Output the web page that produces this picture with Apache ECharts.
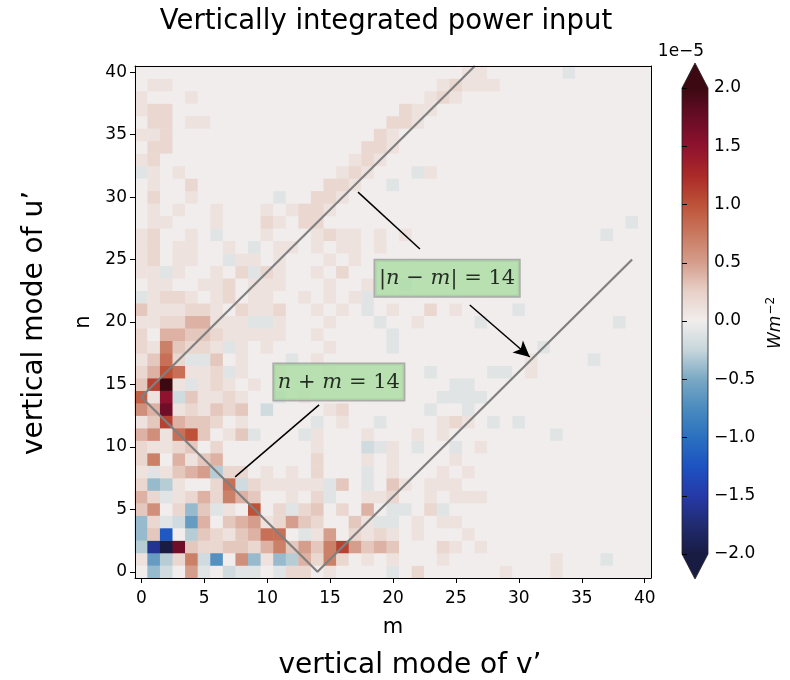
<!DOCTYPE html>
<html><head><meta charset="utf-8">
<script src="https://cdn.jsdelivr.net/npm/echarts@6/dist/echarts.min.js"></script>
<style>html,body{margin:0;padding:0;background:#fff}#c{width:790px;height:680px}</style>
</head><body><div id="c"></div>
<script>
// Axis categories (vertical mode indices)
const mCategories = ['0','1','2','3','4','5','6','7','8','9','10','11','12','13','14','15','16','17','18','19','20','21','22','23','24','25','26','27','28','29','30','31','32','33','34','35','36','37','38','39','40'];
const nCategories = mCategories.slice();
const colorbarTicks = [-2.0,-1.5,-1.0,-0.5,0.0,0.5,1.0,1.5,2.0];
// colour stops of the diverging map, from -2 to +2 (units 1e-5)
const balanceStops = ['#181c43','#212b70','#2639a8','#1d52c2','#2a70bf','#4a8bbf','#7aa8c4','#c6d6db','#f1edec','#e8d1c9','#d59e8c','#c9785f','#bd5238','#aa2a28','#8f122e','#680c26','#3c0912'];

// Power input, units of 1e-6 W m^-2, one array per row n (index = m)
const n00=[0,-4,-2,0,5,-1,0,-2,-1,-1,0,-1,2,2, 0,1,0,0,0,0,-1,0,2,0,0,0,0,0, 0,1,0,0,0,1,0,0,0,0,0,0,0];
const n01=[1,-6,-3,2,7,-2,-7,0,6,-4,1,-4,-3,4, 2,7,2,0,1,0,1,0,0,0,1,0,0,0, 0,0,0,0,0,1,0,0,0,-1,0,0,0];
const n02=[-3,-16,-20,17,3,2,2,3,3,2,4,7,3,5, 3,7,11,5,3,4,3,0,0,0,2,1,0,1, 0,0,0,0,0,0,0,0,0,0,0,0,0];
const n03=[-4,3,-12,0,-3,3,2,1,3,4,8,8,0,-1, 1,5,0,2,1,2,1,0,1,0,0,0,1,0, 0,0,0,0,0,0,0,0,0,0,0,0,0];
const n04=[-4,2,-1,-2,-6,4,0,3,4,5,1,2,5,3, 2,0,0,3,1,-1,-1,0,1,0,1,1,0,0, 0,0,0,0,0,0,0,0,0,0,0,0,0];
const n05=[3,6,0,2,-4,3,-1,1,0,10,0,2,-1,2, 3,0,2,0,4,0,-1,-1,0,2,-1,0,0,0, 0,0,0,0,0,0,0,0,0,0,0,0,0];
const n06=[4,2,-1,1,2,4,2,7,4,3,0,0,1,0, 2,-1,0,0,1,1,2,0,0,1,0,1,1,1, 0,0,0,0,0,0,0,0,0,0,0,0,0];
const n07=[2,-4,-3,1,0,0,2,8,-2,2,1,1,1,1, 1,-1,3,0,-1,0,3,1,0,1,1,1,0,0, 0,0,0,0,0,0,0,0,0,0,0,0,0];
const n08=[1,-1,1,3,4,5,-3,2,2,0,1,0,1,0, 2,0,0,0,-1,0,1,0,0,0,1,0,1,0, 0,0,0,0,0,0,0,0,0,0,0,0,0];
const n09=[2,7,0,4,1,3,4,0,0,0,0,0,0,0, 2,0,0,0,1,0,1,0,0,0,0,1,0,0, 0,0,0,0,0,0,0,0,0,0,0,0,0];
const n10=[2,1,1,2,3,0,2,0,0,0,0,0,0,0, 1,0,0,0,-2,-1,1,0,-1,0,0,-1,0,1, 0,0,0,0,0,0,0,0,0,0,0,0,0];
const n11=[4,6,1,8,10,3,0,1,3,-1,0,0,0,-1, 1,0,0,0,1,0,0,0,1,0,1,0,0,0, 0,0,0,0,0,-1,0,0,0,0,0,0,0];
const n12=[1,3,11,4,3,3,2,0,1,0,0,0,0,0, -1,0,1,0,0,-1,0,0,0,0,1,2,1,0, -1,0,-1,0,0,0,0,0,0,0,0,0,0];
const n13=[6,4,17,1,2,1,3,2,3,0,-2,0,0,0, 0,1,2,0,0,0,0,0,0,-1,0,0,-1,0, 0,0,0,0,0,0,0,0,0,0,0,0,0];
const n14=[9,1,15,-2,3,1,1,2,1,0,0,-1,0,1, 0,0,0,0,0,0,0,0,0,0,-1,-1,-1,-1, 0,0,0,0,0,0,0,0,0,0,0,0,0];
const n15=[3,11,20,1,-1,1,2,1,0,1,0,0,0,0, 0,0,0,0,0,0,0,0,0,0,0,-1,-1,0, 0,0,0,0,0,0,0,0,0,0,0,0,0];
const n16=[2,4,10,8,1,1,2,-1,1,0,0,1,0,0, 0,1,0,0,0,0,0,0,0,-1,0,0,0,0, -1,-1,0,1,0,0,0,0,0,0,0,0,0];
const n17=[1,3,8,2,-1,-1,3,0,1,0,0,0,-1,0, 1,0,0,0,0,0,0,0,0,0,0,0,0,0, 0,0,0,1,0,0,0,0,-1,0,0,0,0];
const n18=[2,1,7,3,2,2,1,-1,1,0,1,0,0,0, 0,1,0,0,0,0,-1,0,0,0,0,0,0,0, 0,0,0,0,-1,0,0,0,0,0,0,0,0];
const n19=[2,0,4,4,3,3,2,1,1,1,1,1,0,0, 1,0,0,0,0,0,-1,0,0,0,0,0,0,0, 0,0,0,0,0,0,0,0,0,0,0,0,0];
const n20=[1,1,2,2,4,4,1,1,1,-1,-1,1,0,0, 0,1,0,0,0,-1,0,0,1,0,0,0,0,-1, 0,0,0,0,0,0,0,0,0,0,-1,0,0];
const n21=[3,1,1,1,2,2,1,0,2,1,1,2,0,0, 1,0,1,0,-1,0,1,0,0,2,0,1,0,0, 0,0,-1,0,0,0,0,0,0,0,0,0,0];
const n22=[-1,1,2,2,1,0,1,2,0,1,1,0,0,1, 0,1,0,1,-1,0,0,0,0,0,0,0,0,0, 0,0,0,0,0,0,0,0,0,0,0,0,0];
const n23=[0,1,1,0,0,1,1,2,0,1,1,1,0,0, 0,1,0,0,1,0,0,-1,0,0,0,0,0,0, 0,0,0,0,0,0,0,0,0,0,0,0,0];
const n24=[1,1,-1,1,0,0,1,0,2,-1,2,1,0,0, 1,0,2,0,0,0,0,0,0,0,0,0,0,0, 0,0,0,0,0,0,0,0,0,0,0,0,0];
const n25=[1,2,0,1,1,0,0,-1,1,1,0,1,0,0, 0,1,0,1,0,0,0,0,0,0,0,0,0,0, 0,0,0,0,0,0,0,0,0,0,0,0,0];
const n26=[1,2,0,1,1,0,0,1,0,-1,0,1,1,0, 1,0,1,1,0,1,0,0,0,0,0,0,0,0, 0,0,0,0,0,0,0,0,0,0,0,0,0];
const n27=[1,2,0,0,1,0,-1,0,0,0,1,0,0,0, 1,2,1,1,0,1,0,1,0,0,0,0,0,0, 0,0,0,0,0,0,0,0,0,-1,0,0,0];
const n28=[0,1,1,0,0,0,1,0,0,0,2,1,0,2, 2,0,0,0,0,0,0,0,0,0,0,0,0,0, 0,0,0,0,0,0,0,0,0,0,0,-1,0];
const n29=[0,1,0,1,0,0,1,0,0,0,1,0,1,2, 2,1,0,0,0,0,0,0,0,0,0,0,0,0, 0,0,0,0,0,0,0,0,0,0,0,0,0];
const n30=[0,2,0,0,1,0,0,0,0,0,0,-1,0,0, 2,2,1,0,0,0,0,0,0,0,0,0,0,0, 0,0,0,0,0,0,0,0,0,0,0,0,0];
const n31=[0,1,0,0,2,0,0,0,0,0,0,0,0,0, 0,2,2,1,0,0,-1,0,0,0,0,0,0,0, 0,0,0,0,0,0,0,0,0,0,0,0,0];
const n32=[-1,1,0,1,0,0,0,0,0,0,0,0,0,0, 0,0,1,2,1,0,0,0,-1,1,0,0,0,0, 0,0,0,0,0,0,0,0,0,0,0,0,0];
const n33=[1,2,0,0,0,0,0,0,0,0,0,0,0,0, 0,0,0,1,2,1,0,0,0,0,0,0,0,0, 0,0,0,0,0,0,0,0,0,0,0,0,0];
const n34=[0,2,2,0,0,0,0,0,0,0,0,0,0,0, 0,0,0,0,2,2,1,0,0,0,0,0,0,0, 0,0,0,0,0,0,0,0,0,0,0,0,0];
const n35=[1,1,2,0,0,0,0,0,0,0,0,0,0,0, 0,0,0,0,0,2,1,0,0,0,0,0,0,0, 0,0,0,0,0,0,0,0,0,0,0,0,0];
const n36=[0,2,2,0,1,1,0,0,0,0,0,0,0,0, 0,0,0,0,0,0,2,2,1,0,0,0,0,0, 0,0,0,0,0,0,0,0,0,0,0,0,0];
const n37=[1,2,2,0,0,0,0,0,0,0,0,0,0,0, 0,0,0,0,0,0,0,2,1,1,0,0,0,0, 0,0,0,0,0,0,0,0,0,0,0,0,0];
const n38=[1,0,0,0,1,0,0,0,0,0,0,0,0,0, 0,0,0,0,0,0,0,0,0,1,2,1,0,0, 0,0,0,0,0,0,0,0,0,0,0,0,0];
const n39=[0,1,1,0,0,0,0,0,0,0,0,0,0,0, 0,0,0,0,0,0,0,0,0,0,1,2,1,1, 1,0,0,0,0,0,0,0,0,0,0,0,0];
const n40=[0,0,0,0,0,0,0,0,0,0,0,0,0,0, 0,0,0,0,0,0,0,0,0,0,0,0,1,1, 0,0,0,0,0,0,-1,0,0,0,0,0,0];
const powerRows=[n00,n01,n02,n03,n04,n05,n06,n07,n08,n09,n10,n11,n12,n13,n14,n15,n16,n17,n18,n19,n20,
  n21,n22,n23,n24,n25,n26,n27,n28,n29,n30,n31,n32,n33,n34,n35,n36,n37,n38,n39,n40];

// Guide lines (m, n)
const sumLinePts = [[0,14],[14,0],[39,25]];
const diffLinePts = [[0,14],[26.5,40.5]];
// Annotation anchors (m, n)
const diffLabelPos = [24.3, 23.5];
const sumLabelPos = [15.7, 15.2];
const diffArrow = [[26.1,21.36],[30.87,17.2]];
const diffConnector = [[22.14,25.84],[17.22,30.4]];
const sumConnector = [[14.13,13.36],[7.46,7.6]];

const heatData = [];
powerRows.forEach((row, n) => row.forEach((v, m) => heatData.push([m, n, v / 10])));

const chart = echarts.init(document.getElementById('c'), null, {renderer:'canvas'});
const tickFont = 'DejaVu Sans';
const black = '#000';
const fmtMinus = v => (v < 0 ? '\u2212' : '') + Math.abs(v).toFixed(1);

const gradStops = balanceStops.slice().reverse().map((c, i, a) => ({offset: i/(a.length-1), color: c}));
const cbX = 682, cbY = 88, cbW = 26, cbH = 466, tri = 25;
const serif = 'DejaVu Serif';

chart.setOption({
  animation: false,
  backgroundColor: '#fff',
  grid: [
    {left: 135, top: 66, width: 516, height: 512},
    {left: cbX, top: cbY, width: cbW, height: cbH}
  ],
  visualMap: {type:'continuous', min:-2, max:2, show:false, seriesIndex:0, inRange:{color: balanceStops}},
  xAxis: [
    {type:'category', gridIndex:0, data:mCategories, position:'bottom', z:5,
     axisLine:{show:true, onZero:false, lineStyle:{color:black, width:1}},
     axisTick:{show:true, alignWithLabel:true, interval:4, length:5, lineStyle:{color:black}},
     axisLabel:{interval:4, fontSize:17, color:black, margin:12, fontFamily:tickFont},
     splitLine:{show:false},
     name:'m', nameLocation:'middle', nameGap:39, nameTextStyle:{fontSize:21, color:black, fontFamily:tickFont}},
    {type:'value', gridIndex:0, min:-0.5, max:40.5, position:'top', z:5,
     axisLine:{show:true, onZero:false, lineStyle:{color:black, width:1}},
     axisTick:{show:false}, axisLabel:{show:false}, splitLine:{show:false}},
    {type:'value', gridIndex:1, min:0, max:1, show:false}
  ],
  yAxis: [
    {type:'category', gridIndex:0, data:nCategories, position:'left', z:5,
     axisLine:{show:true, onZero:false, lineStyle:{color:black, width:1}},
     axisTick:{show:true, alignWithLabel:true, interval:4, length:5, lineStyle:{color:black}},
     axisLabel:{interval:4, fontSize:17, color:black, margin:8, fontFamily:tickFont},
     splitLine:{show:false},
     name:'n', nameLocation:'middle', nameGap:39, nameRotate:90, nameTextStyle:{fontSize:21, color:black, fontFamily:tickFont}},
    {type:'value', gridIndex:0, min:-0.5, max:40.5, position:'right', z:5,
     axisLine:{show:true, onZero:false, lineStyle:{color:black, width:1}},
     axisTick:{show:false}, axisLabel:{show:false}, splitLine:{show:false}},
    {type:'value', gridIndex:1, min:-2, max:2, interval:0.5, position:'right', z:5,
     axisLine:{show:false},
     axisTick:{show:true, length:5, lineStyle:{color:black}},
     axisLabel:{fontSize:17, color:black, margin:6, fontFamily:tickFont, formatter: fmtMinus},
     splitLine:{show:false}}
  ],
  series: [
    {type:'heatmap', xAxisIndex:0, yAxisIndex:0, data:heatData, progressive:0, emphasis:{disabled:true}, itemStyle:{borderWidth:0}},
    {type:'line', xAxisIndex:1, yAxisIndex:1, data:sumLinePts, symbol:'none', z:4, silent:true,
     lineStyle:{color:'#808080', width:2.2}},
    {type:'line', xAxisIndex:1, yAxisIndex:1, data:diffLinePts, symbol:'none', z:4, silent:true,
     lineStyle:{color:'#808080', width:2.2},
     markLine:{silent:true, symbol:['none','none'], label:{show:false}, lineStyle:{color:black, width:1.5, type:'solid'},
       data:[[{coord:diffConnector[0]},{coord:diffConnector[1]}],[{coord:sumConnector[0]},{coord:sumConnector[1]}]]}},
    {type:'line', xAxisIndex:1, yAxisIndex:1, data:[], symbol:'none', z:4, silent:true,
     markLine:{silent:true, symbol:['none','arrow'], symbolSize:[12,16], label:{show:false}, lineStyle:{color:black, width:1.5, type:'solid'},
       itemStyle:{color:black},
       data:[[{coord:diffArrow[0]},{coord:diffArrow[1]}]]}},
    {type:'scatter', xAxisIndex:1, yAxisIndex:1, z:8, silent:true, symbolSize:0.1, itemStyle:{color:'rgba(0,0,0,0)'},
     data:[{value:diffLabelPos, name:'diff'},{value:sumLabelPos, name:'sum'}],
     label:{show:true, position:'inside', backgroundColor:'#aadca2', borderColor:'#9a9a9a', borderWidth:1.5,
       padding:[6,4,5,4],
       formatter: p => p.name === 'diff' ? '{r||}{i|n}{r| \u2212 }{i|m}{r|| = 14}' : '{i|n}{r| + }{i|m}{r| = 14}',
       rich:{ r:{fontFamily:serif, fontSize:21, color:black, lineHeight:25},
              i:{fontFamily:serif, fontStyle:'italic', fontSize:21, color:black, lineHeight:25}}}}
  ],
  graphic: [
    {type:'text', x:386, y:22, style:{text:'Vertically integrated power input', font:'27.5px "DejaVu Sans"', fill:black, textAlign:'center', textVerticalAlign:'middle'}},
    {type:'text', x:410, y:666, style:{text:'vertical mode of v\u2019', font:'28px "DejaVu Sans"', fill:black, textAlign:'center', textVerticalAlign:'middle'}},
    {type:'text', x:35, y:323, rotation:Math.PI/2, style:{text:'vertical mode of u\u2019', font:'28px "DejaVu Sans"', fill:black, textAlign:'center', textVerticalAlign:'middle'}},
    {type:'rect', z:-1, shape:{x:cbX, y:cbY, width:cbW, height:cbH}, style:{fill:{type:'linear', x:0, y:0, x2:0, y2:1, colorStops:gradStops}}},
    {type:'polygon', shape:{points:[[cbX,cbY],[cbX+cbW,cbY],[cbX+cbW/2,cbY-tri]]}, style:{fill:balanceStops[balanceStops.length-1]}},
    {type:'polygon', shape:{points:[[cbX,cbY+cbH],[cbX+cbW,cbY+cbH],[cbX+cbW/2,cbY+cbH+tri]]}, style:{fill:balanceStops[0]}},
    {type:'polyline', shape:{points:[[cbX,cbY],[cbX+cbW/2,cbY-tri],[cbX+cbW,cbY],[cbX+cbW,cbY+cbH],[cbX+cbW/2,cbY+cbH+tri],[cbX,cbY+cbH],[cbX,cbY]]}, style:{stroke:'#222', lineWidth:0.8, fill:null}},
    {type:'text', x:681, y:52, style:{text:'1e\u22125', font:'17px "DejaVu Sans"', fill:black, textAlign:'center', textVerticalAlign:'middle'}},
    {type:'text', x:776, y:323, rotation:Math.PI/2, style:{text:'{i|Wm}{s|\u22122}', textAlign:'center', textVerticalAlign:'middle',
      rich:{i:{font:'italic 17px "DejaVu Sans"', fill:black}, s:{font:'12px "DejaVu Sans"', fill:black, padding:[0,0,10,1]}}}}
  ]
});
</script></body></html>
